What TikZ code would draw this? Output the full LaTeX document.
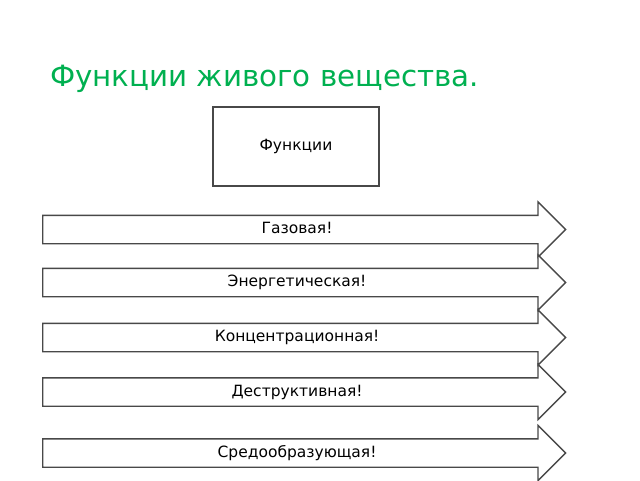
\documentclass[tikz,border=0pt]{standalone}
\usepackage{fontspec}
\setmainfont{DejaVu Sans}
\usetikzlibrary{shapes.arrows}
\definecolor{titlegreen}{RGB}{0,176,80}
\definecolor{linegray}{RGB}{72,72,72}

\tikzset{funcarrow/.style={single arrow, draw=linegray, line width=1.3pt, fill=white,
  anchor=tail, inner xsep=0pt, inner ysep=6pt, text height=11.5pt, text depth=3.5pt,
  minimum height=523pt, single arrow head extend=13.5pt, font=\fontsize{15.5}{18}\selectfont}}

\begin{document}
\begin{tikzpicture}[x=1pt,y=-1pt]
		\useasboundingbox (0,0) rectangle (640,480);
		
		% title
		\node[anchor=base west, text=titlegreen, inner sep=0pt, font=\fontsize{29.3}{34}\selectfont] (title) at (50,86.5) {Функции живого вещества.};
		
		% top box
		\node[draw=linegray, line width=1.3pt, minimum width=166pt, minimum height=79pt, font=\fontsize{15.5}{18}\selectfont] (func) at (296,146.5) {Функции};
		
		% arrows
		\node[funcarrow] (gas) at (42,229.5) {Газовая!};
		\node[funcarrow] (energy) at (42,282.5) {Энергетическая!};
		\node[funcarrow] (conc) at (42,337.5) {Концентрационная!};
		\node[funcarrow] (destr) at (42,392) {Деструктивная!};
		\node[funcarrow] (env) at (42,453) {Средообразующая!};
\end{tikzpicture}
\end{document}
